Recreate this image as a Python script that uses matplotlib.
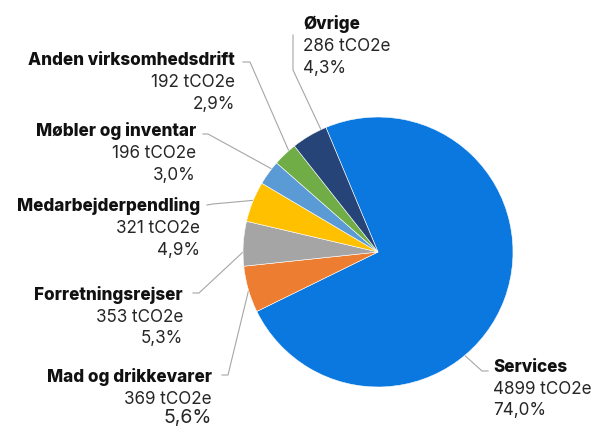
import numpy as np
import matplotlib
matplotlib.use('Agg')
import matplotlib.pyplot as plt

# data, clockwise from the top
categories = ['Services', 'Mad og drikkevarer', 'Forretningsrejser', 'Medarbejderpendling',
              'Møbler og inventar', 'Anden virksomhedsdrift', 'Øvrige']
values = [4899, 369, 353, 321, 196, 192, 286]
pct_labels = ['74,0%', '5,6%', '5,3%', '4,9%', '3,0%', '2,9%', '4,3%']
colors = ['#0A78DE', '#ED7D31', '#A5A5A5', '#FFC000', '#5B9BD5', '#70AD47', '#264478']

W, H = 596, 428
CX, CY, R = 378, H - 252, 135

# label layout in image pixels: (x, y of name, ha, line points from label, tip angle in deg)
layout = {
    'Services': (493, 367, 'left', [(488, 371), (482, 371)], -50),
    'Mad og drikkevarer': (212, 377, 'right', [(222, 375), (228, 375)], 196.5),
    'Forretningsrejser': (183, 295, 'right', [(193, 293), (199, 293)], 180),
    'Medarbejderpendling': (200, 206, 'right', [(207, 205), (213, 204)], 157.5),
    'Møbler og inventar': (196, 131, 'right', [(203, 134), (208, 134)], 142),
    'Anden virksomhedsdrift': (235, 60, 'right', [(243, 62), (250, 62)], 131.4),
    'Øvrige': (303, 24, 'left', [(293, 35), (293, 70)], 115),
}

plt.rcParams['font.family'] = ['Inter', 'DejaVu Sans']

fig = plt.figure(figsize=(W / 100, H / 100), dpi=100)
ax = fig.add_axes([0, 0, 1, 1])

ax.pie(values, colors=colors, startangle=112.7, counterclock=False,
       center=(CX, CY), radius=R, frame=True,
       wedgeprops=dict(edgecolor='white', linewidth=0.4))
ax.set_xlim(0, W)
ax.set_ylim(0, H)
ax.set_aspect('equal')
ax.axis('off')

for cat, val, pct in zip(categories, values, pct_labels):
    x, y, ha, pts, ang = layout[cat]
    ax.text(x, H - y, cat, ha=ha, va='center', fontsize=12.3, fontweight='heavy', color='#111111')
    ax.text(x, H - y - 22.5, f'{val} tCO2e', ha=ha, va='center', fontsize=12.3, color='#262626')
    big = cat == 'Mad og drikkevarer'
    ax.text(x, H - y - (41.5 if big else 44), pct, ha=ha, va='center',
            fontsize=14 if big else 12.3, color='#262626')
    tip = (CX + R * np.cos(np.radians(ang)), CY + R * np.sin(np.radians(ang)))
    xs = [p[0] for p in pts] + [tip[0]]
    ys = [H - p[1] for p in pts] + [tip[1]]
    ax.plot(xs, ys, color='#a6a6a6', linewidth=0.8, zorder=0)

fig.savefig('out.png', dpi=100)
